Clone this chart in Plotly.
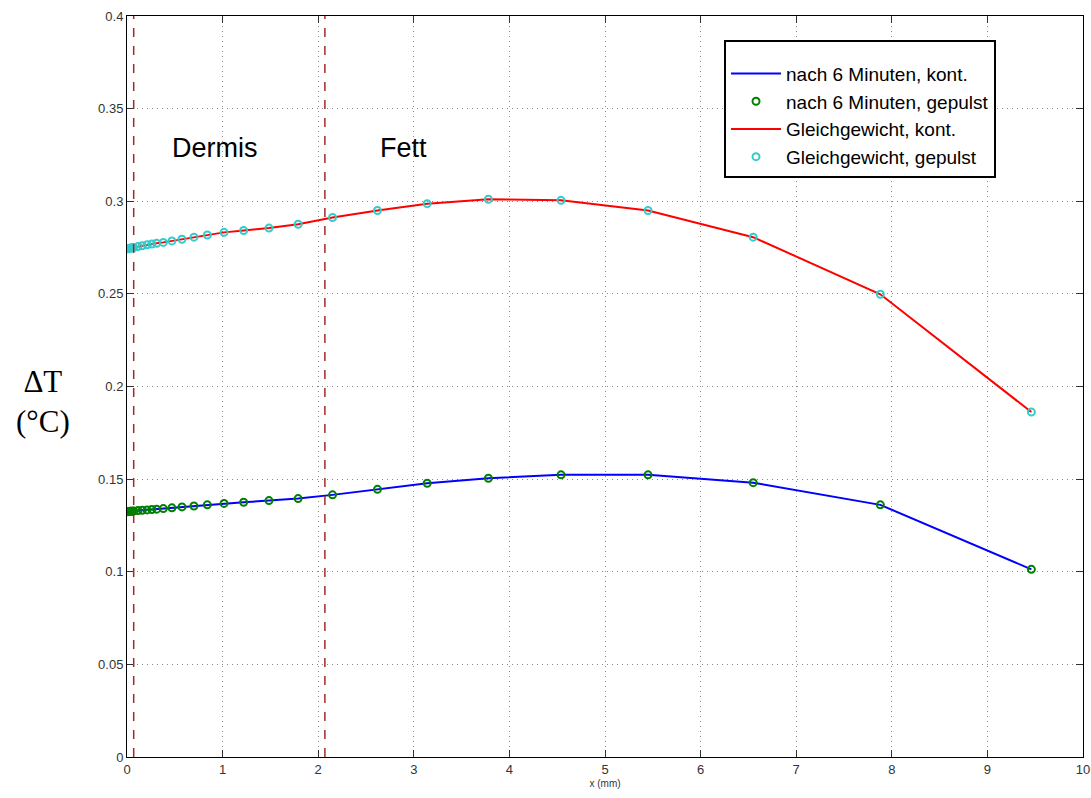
import plotly.graph_objects as go

# depth positions (mm)
x_mm = [0.0, 0.01, 0.02, 0.03, 0.04, 0.05, 0.06, 0.07, 0.115, 0.16, 0.21, 0.26,
        0.31, 0.38, 0.47, 0.575, 0.70, 0.84, 1.015, 1.22, 1.485, 1.79, 2.15,
        2.62, 3.14, 3.78, 4.54, 5.45, 6.55, 7.88, 9.46]

# Gleichgewicht (equilibrium)
eq_kont = [0.2743, 0.2744, 0.2745, 0.2746, 0.2747, 0.2748, 0.2749, 0.2750, 0.2756,
           0.2760, 0.2765, 0.2769, 0.2773, 0.2778, 0.2786, 0.2795, 0.2806, 0.2818,
           0.2832, 0.2842, 0.2855, 0.2876, 0.2912, 0.2950, 0.2987, 0.3011, 0.3005,
           0.2950, 0.2806, 0.2498, 0.1862]
eq_puls = [0.2743, 0.2744, 0.2745, 0.2746, 0.2747, 0.2748, 0.2749, 0.2750, 0.2756,
           0.2760, 0.2765, 0.2769, 0.2773, 0.2778, 0.2786, 0.2795, 0.2806, 0.2818,
           0.2832, 0.2842, 0.2855, 0.2876, 0.2912, 0.2950, 0.2987, 0.3011, 0.3005,
           0.2950, 0.2806, 0.2498, 0.1862]

# nach 6 Minuten
m6_kont = [0.1324, 0.1325, 0.1325, 0.1326, 0.1326, 0.1327, 0.1327, 0.1328, 0.1330,
           0.1332, 0.1334, 0.1336, 0.1338, 0.1341, 0.1345, 0.1350, 0.1355, 0.1361,
           0.1369, 0.1375, 0.1384, 0.1395, 0.1415, 0.1445, 0.1478, 0.1505, 0.1523,
           0.1523, 0.1481, 0.1361, 0.1013]
m6_puls = [0.1324, 0.1325, 0.1325, 0.1326, 0.1326, 0.1327, 0.1327, 0.1328, 0.1330,
           0.1332, 0.1334, 0.1336, 0.1338, 0.1341, 0.1345, 0.1350, 0.1355, 0.1361,
           0.1369, 0.1375, 0.1384, 0.1395, 0.1415, 0.1445, 0.1478, 0.1505, 0.1523,
           0.1523, 0.1481, 0.1361, 0.1013]

layer_bounds = [0.07, 2.07]
layer_names = ["Dermis", "Fett"]
layer_label_x = [0.92, 2.89]
layer_label_y = 0.329

x_ticks = list(range(0, 11))
y_ticks = [0, 0.05, 0.1, 0.15, 0.2, 0.25, 0.3, 0.35, 0.4]
y_tick_text = ["0", "0.05", "0.1", "0.15", "0.2", "0.25", "0.3", "0.35", "0.4"]

fig = go.Figure()
fig.add_trace(go.Scatter(x=x_mm, y=m6_kont, mode="lines", name="nach 6 Minuten, kont.",
                         line=dict(color="#0000ff", width=2), legendrank=1))
fig.add_trace(go.Scatter(x=x_mm, y=eq_kont, mode="lines", name="Gleichgewicht, kont.",
                         line=dict(color="#ff0000", width=2), legendrank=3))
fig.add_trace(go.Scatter(x=x_mm, y=m6_puls, mode="markers", name="nach 6 Minuten, gepulst",
                         marker=dict(symbol="circle-open", color="#008000", size=7,
                                     line=dict(width=2, color="#008000")), legendrank=2))
fig.add_trace(go.Scatter(x=x_mm, y=eq_puls, mode="markers", name="Gleichgewicht, gepulst",
                         marker=dict(symbol="circle-open", color="#33cccc", size=7,
                                     line=dict(width=2, color="#33cccc")), legendrank=4))

for xb in layer_bounds:
    fig.add_vline(x=xb, line=dict(color="#9b2c2c", width=1.5, dash="dash"))

for name, lx in zip(layer_names, layer_label_x):
    fig.add_annotation(x=lx, y=layer_label_y, text=name, showarrow=False,
                       font=dict(family="Liberation Sans, Arial", size=27, color="black"))

fig.add_annotation(xref="paper", yref="paper", x=-0.088, y=0.48, xanchor="center",
                   text="ΔT<br>(°C)", showarrow=False, align="center",
                   font=dict(family="Liberation Serif, Times New Roman", size=31, color="black"))

axis_common = dict(showline=True, linecolor="black", linewidth=1, mirror="ticks",
                   ticks="inside", ticklen=7, tickcolor="#333", automargin=False,
                   showgrid=True, gridcolor="#888", griddash="1px,4px", gridwidth=1,
                   zeroline=False,
                   tickfont=dict(family="Liberation Sans Narrow, Liberation Sans, Arial", size=13, color="#333"))

fig.update_xaxes(range=[0, 10], tickvals=x_ticks, **axis_common,
                 title=dict(text="x (mm)", standoff=4,
                            font=dict(family="Liberation Sans, Arial", size=10, color="#333")))
fig.update_yaxes(range=[0, 0.4], tickvals=y_ticks, ticktext=y_tick_text, **axis_common)

fig.update_layout(
    width=1091, height=798,
    margin=dict(l=127, r=8, t=16, b=41),
    paper_bgcolor="white", plot_bgcolor="white",
    showlegend=True,
    legend=dict(x=0.6245, y=0.968, xanchor="left", yanchor="top",
                bgcolor="white", bordercolor="black", borderwidth=2,
                font=dict(family="Liberation Sans, Arial", size=19, color="black"),
                title=dict(text="&nbsp;", font=dict(size=10)),
                tracegroupgap=0, itemwidth=50),
)

# remove the default page margin so the figure fills the window exactly
fig.write_html("out.html", config={"displayModeBar": False},
               post_script="document.body.style.margin='0';document.body.style.overflow='hidden';")
